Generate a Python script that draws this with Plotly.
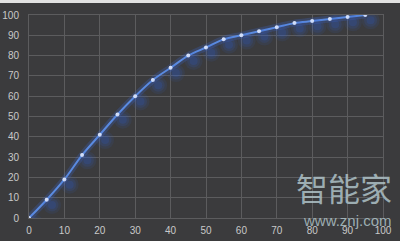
import plotly.graph_objects as go

x_vals = [0, 5, 10, 15, 20, 25, 30, 35, 40, 45, 50, 55, 60, 65, 70, 75, 80, 85, 90, 95]
y_vals = [0, 9, 19, 31, 41, 51, 60, 68, 74, 80, 84, 88, 90, 92, 94, 96, 97, 98, 99, 100]
tick_vals = list(range(0, 101, 10))

BG = "#3b3b3d"
GRID = "#5c5c5e"
TXT = "#c9c9c9"

fig = go.Figure()

# soft blue shadow, drawn on overlay axes shifted a few pixels down-right
for size, op in [(18, 0.10), (13, 0.14), (8, 0.18)]:
    fig.add_trace(go.Scatter(
        x=x_vals, y=y_vals, mode="markers", xaxis="x2", yaxis="y2",
        marker=dict(size=size, color="#2f5fd0", opacity=op, line=dict(width=0)),
        hoverinfo="skip", showlegend=False))
fig.add_trace(go.Scatter(
    x=x_vals, y=y_vals, mode="lines", line=dict(color="rgba(60,110,230,0.22)", width=7, shape="spline"),
    hoverinfo="skip", showlegend=False))

fig.add_trace(go.Scatter(
    x=x_vals, y=y_vals, mode="lines+markers",
    line=dict(color="#5a8ae0", width=2, shape="spline"),
    marker=dict(size=4, color="#e4ecff", line=dict(width=0)),
    showlegend=False))

axis_common = dict(showgrid=True, gridcolor=GRID, gridwidth=1, zeroline=False,
                   showline=True, linecolor=GRID, mirror=True, automargin=False,
                   tickfont=dict(family="Liberation Sans", size=10, color=TXT),
                   tickvals=tick_vals, fixedrange=True)

fig.update_layout(
    width=400, height=241,
    margin=dict(l=29, r=17, t=15, b=23),
    paper_bgcolor=BG, plot_bgcolor=BG,
    xaxis=dict(range=[0, 100], ticks="outside", ticklen=3, tickcolor=BG, **axis_common),
    yaxis=dict(range=[0, 100], ticks="outside", ticklen=7, tickcolor=BG, **axis_common),
    xaxis2=dict(range=[-1.5, 98.5], overlaying="x", visible=False, fixedrange=True),
    yaxis2=dict(range=[2.6, 102.6], overlaying="y", visible=False, fixedrange=True),
    shapes=[dict(type="rect", xref="paper", yref="paper", x0=-0.2, x1=1.2, y0=1.059, y1=1.3,
                 fillcolor="#e2e2e2", line=dict(width=0), layer="above")],
    annotations=[
        dict(text="智能家", xref="paper", yref="paper", x=1.03, y=0.03, xanchor="right", yanchor="bottom",
             showarrow=False, font=dict(family="Noto Sans CJK SC", size=32, color="rgba(175,195,200,0.85)")),
        dict(text="www.znj.com", xref="paper", yref="paper", x=1.03, y=-0.01, xanchor="right", yanchor="middle",
             showarrow=False, font=dict(family="Liberation Sans", size=15, color="rgba(175,195,200,0.85)")),
    ],
)

fig.write_html("out.html")
